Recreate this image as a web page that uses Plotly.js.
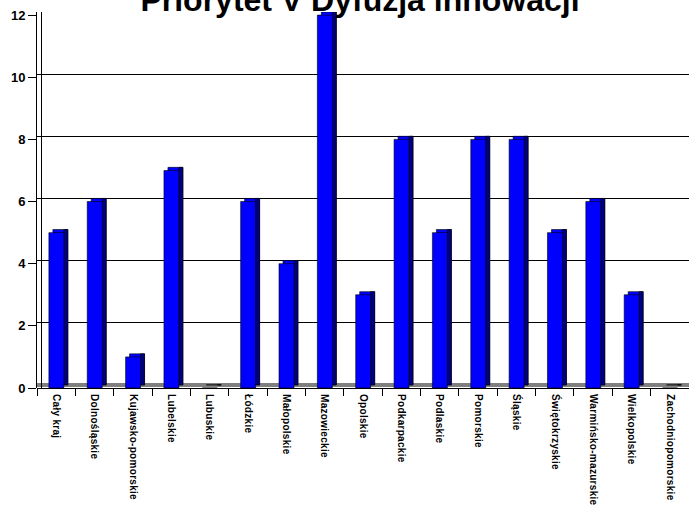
<!DOCTYPE html>
<html>
<head>
<meta charset="utf-8">
<script src="https://cdn.plot.ly/plotly-3.0.1.min.js"></script>
<style>
html,body{margin:0;padding:0;background:#fff}
#chart{width:689px;height:510px}
#chart .xtick text{letter-spacing:0.3px}
</style>
</head>
<body>
<div id="chart"></div>
<script>
const categories = ["Cały kraj","Dolnośląskie","Kujawsko-pomorskie","Lubelskie","Lubuskie","Łódzkie","Małopolskie","Mazowieckie","Opolskie","Podkarpackie","Podlaskie","Pomorskie","Śląskie","Świętokrzyskie","Warmińsko-mazurskie","Wielkopolskie","Zachodniopomorskie"];
const values = [5,6,1,7,0,6,4,12,3,8,5,8,8,5,6,3,0];
const yTicks = [0,2,4,6,8,10,12];
const titleText = "Priorytet V Dyfuzja innowacji";

const FONT = "Liberation Sans, Arial, sans-serif";

// back (depth) layer: top cap of each bar
const capTrace = {
  type: "bar", x: categories, y: values, xaxis: "x", yaxis: "y",
  offset: -0.086, width: 0.39,
  marker: {color: "#0000FF", line: {color: "#000000", width: 0.6}},
  hoverinfo: "skip", showlegend: false
};
// back layer: dark side face
const sideTrace = {
  type: "bar", x: categories, y: values, xaxis: "x", yaxis: "y",
  offset: 0.2, width: 0.104,
  marker: {color: "#000080", line: {color: "#000000", width: 0.6}},
  hoverinfo: "skip", showlegend: false
};
// front face
const frontTrace = {
  type: "bar", x: categories, y: values, xaxis: "x", yaxis: "y2",
  offset: -0.19, width: 0.39,
  marker: {color: "#0000FF", line: {color: "#000000", width: 0.6}},
  showlegend: false
};

const layout = {
  width: 689, height: 510,
  margin: {l: 37, r: 0, t: 12, b: 122, pad: 0},
  paper_bgcolor: "#ffffff", plot_bgcolor: "rgba(0,0,0,0)",
  showlegend: false,
  title: {
    text: titleText,
    font: {family: FONT, size: 32, weight: "bold", color: "#000000"},
    x: 0.5225, xref: "container", xanchor: "center",
    y: 1, yref: "container", yanchor: "middle"
  },
  xaxis: {
    type: "category", range: [-0.5, 16.5],
    ticks: "outside", tickson: "boundaries", ticklen: 7, tickcolor: "#000000", tickwidth: 1,
    tickangle: 90, ticklabelstandoff: 5,
    tickfont: {family: FONT, size: 10, weight: "bold", color: "#000000"},
    showgrid: false, showline: false, zeroline: false, fixedrange: true
  },
  yaxis: {
    range: [-0.1, 12], tickvals: yTicks,
    anchor: "free", position: 0.006, side: "left",
    showticklabels: false, ticks: "",
    showgrid: true, gridcolor: "#000000", gridwidth: 1,
    zeroline: true, zerolinecolor: "#808080", zerolinewidth: 4,
    showline: true, linecolor: "#000000", linewidth: 1, fixedrange: true
  },
  yaxis2: {
    overlaying: "y", side: "left", anchor: "x",
    range: [0, 12.1], tickvals: yTicks, ticktext: yTicks.map(String),
    ticks: "outside", ticklen: 8, tickcolor: "#000000",
    tickfont: {family: FONT, size: 13, weight: "bold", color: "#000000"},
    showgrid: false, zeroline: true, zerolinecolor: "#000000", zerolinewidth: 1,
    showline: true, linecolor: "#000000", linewidth: 1, fixedrange: true
  }
};

Plotly.newPlot("chart", [capTrace, sideTrace, frontTrace], layout, {displayModeBar: false, staticPlot: true});
</script>
</body>
</html>
